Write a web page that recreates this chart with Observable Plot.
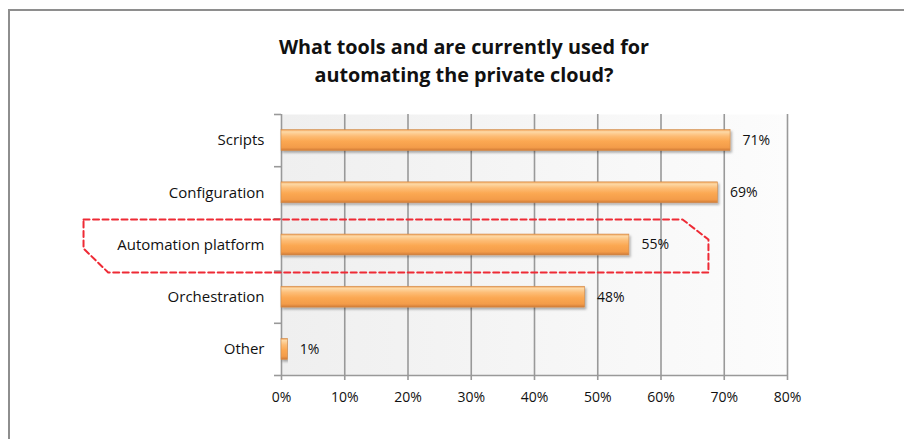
<!DOCTYPE html>
<html>
<head>
<meta charset="utf-8">
<script src="https://cdn.jsdelivr.net/npm/d3@7"></script>
<script src="https://cdn.jsdelivr.net/npm/@observablehq/plot@0.6"></script>
<style>
  html, body { margin: 0; padding: 0; background: #fff; overflow: hidden; }
  #page { width: 904px; height: 439px; position: relative; overflow: hidden; font-family: "Open Sans", Lato, sans-serif; }
  #chart { position: absolute; left: 0; top: 0; }
  #title { position: absolute; left: 0; width: 904px; padding-left: 24px; box-sizing: border-box; top: 33px; text-align: center; font-weight: bold; font-size: 19.8px; line-height: 28px; color: #111; }
</style>
</head>
<body>
<div id="page">
<div id="chart"></div>
<div id="title">What tools and are currently used for<br>automating the private cloud?</div>
</div>
<script>
// ---- data ----
const categories = ["Scripts", "Configuration", "Automation platform", "Orchestration", "Other"];
const values = [71, 69, 55, 48, 1];
const xTicks = [0, 10, 20, 30, 40, 50, 60, 70, 80];
// callout outline around "Automation platform", in data units [percent, row index]
const calloutX = [-31.3, 63.4, 67.5, 67.5, -27.4, -31.3, -31.3];
const calloutY = [1.51, 1.51, 1.895, 2.527, 2.527, 2.067, 1.51];

const rows = categories.map((c, i) => ({category: c, index: i, value: values[i]}));
const callout = calloutX.map((x, i) => ({x, y: calloutY[i]}));
const boundaries = d3.range(categories.length + 1).map(i => i - 0.5);

const defs = () => {
  const d = d3.create("svg:defs");
  const bg = d.append("linearGradient").attr("id", "bg").attr("x1", 0).attr("x2", 1).attr("y1", 0).attr("y2", 0);
  bg.append("stop").attr("offset", 0).attr("stop-color", "#efefef");
  bg.append("stop").attr("offset", 1).attr("stop-color", "#fcfcfc");
  const bar = d.append("linearGradient").attr("id", "bar").attr("x1", 0).attr("x2", 0).attr("y1", 0).attr("y2", 1);
  [[0, "#f0a055"], [0.1, "#fdd9a6"], [0.3, "#fdbd76"], [0.55, "#fba852"], [0.85, "#f39c4a"], [1, "#cf7a36"]]
    .forEach(([o, c]) => bar.append("stop").attr("offset", o).attr("stop-color", c));
  const f = d.append("filter").attr("id", "shadow").attr("x", "-5%").attr("y", "-20%").attr("width", "115%").attr("height", "160%");
  f.append("feDropShadow").attr("dx", 1.5).attr("dy", 2).attr("stdDeviation", 1.2).attr("flood-color", "#000").attr("flood-opacity", 0.3);
  return d.node();
};

// outer chart-area border (left and top edges only; the rest is cropped in the original)
const outerBorder = (index, scales, values, dims) => {
  const p = d3.create("svg:path")
    .attr("d", `M9,${dims.height}V10H${dims.width}`)
    .attr("fill", "none").attr("stroke", "#8e8e8e").attr("stroke-width", 2);
  return p.node();
};

const font = "'Open Sans', Lato, sans-serif";
const chart = Plot.plot({
  width: 904,
  height: 439,
  marginTop: 114,
  marginBottom: 64,
  marginLeft: 281,
  marginRight: 117,
  style: {background: "transparent", fontFamily: font, fontSize: "14px", color: "#111"},
  x: {domain: [0, 80], axis: null},
  y: {domain: [categories.length - 0.5, -0.5], axis: null},
  marks: [
    defs,
    outerBorder,
    Plot.frame({fill: "url(#bg)", stroke: null}),
    Plot.ruleX(xTicks, {stroke: "#999", strokeWidth: 1.6, strokeOpacity: 1}),
    Plot.ruleY([categories.length - 0.5], {stroke: "#999", strokeWidth: 1.6, strokeOpacity: 1}),
    Plot.axisX(xTicks, {tickSize: 5, tickPadding: 12, tickFormat: d => d + "%", stroke: "#999", strokeWidth: 1.6, strokeOpacity: 1, fontSize: 14, fill: "#111"}),
    Plot.axisY(boundaries, {tickSize: 7, tickFormat: () => "", stroke: "#999", strokeWidth: 1.6, strokeOpacity: 1}),
    Plot.axisY(d3.range(categories.length), {tickSize: 0, tickPadding: 17, tickFormat: i => categories[i], fontSize: 15, fill: "#111"}),
    Plot.rect(rows, {x1: 0, x2: "value", y1: d => d.index - 0.2, y2: d => d.index + 0.2, fill: "url(#bar)", stroke: "#d08a4a", strokeWidth: 0.6}),
    Plot.text(rows, {x: "value", y: "index", text: d => d.value + "%", textAnchor: "start", dx: 12, fontSize: 14, fill: "#111"}),
    Plot.line(callout, {x: "x", y: "y", stroke: "#ee2a35", strokeWidth: 2, strokeDasharray: "6,3.5"})
  ]
});
d3.select(chart).selectAll("g[aria-label=rect] rect").attr("filter", "url(#shadow)");
document.getElementById("chart").appendChild(chart);
</script>
</body>
</html>
